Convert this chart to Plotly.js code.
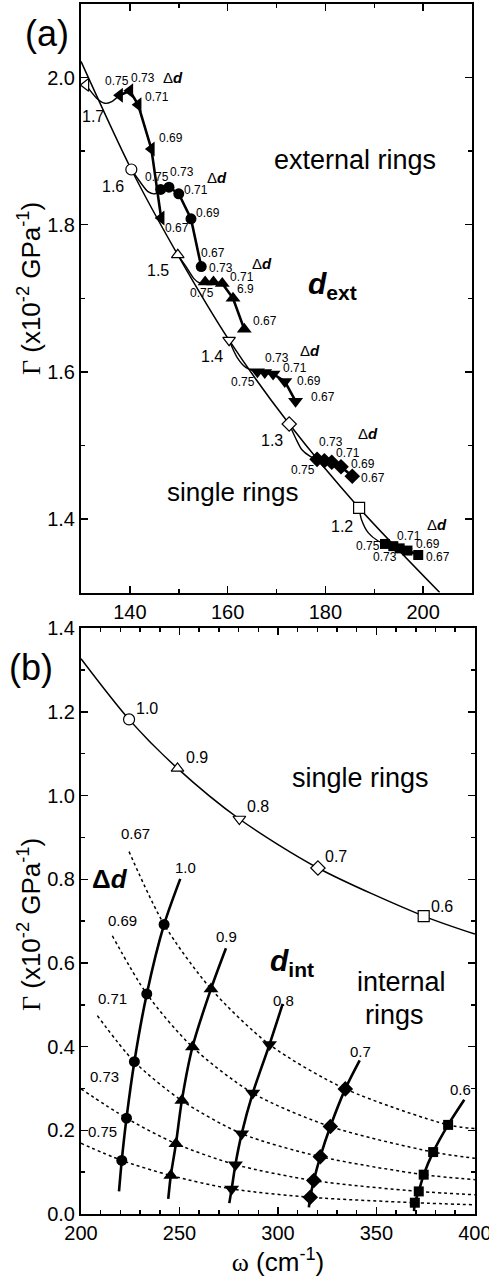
<!DOCTYPE html>
<html><head><meta charset="utf-8">
<script src="https://cdn.plot.ly/plotly-3.0.1.min.js"></script>
<style>html,body{margin:0;padding:0;background:#fff}</style>
</head><body>
<div id="chart" style="width:489px;height:1279px"></div>
<script>
// ================= DATA =================
// Panel (a) single rings (open markers) and curve
const singleA_d = ['1.7', '1.6', '1.5', '1.4', '1.3', '1.2'];
const singleA_w = [131.0, 140.3, 149.8, 160.3, 172.6, 186.9];
const singleA_G = [1.990, 1.875, 1.759, 1.643, 1.529, 1.415];
const singleLineA_w = [130.0, 140.3, 149.8, 160.3, 172.6, 186.9, 203.4];
const singleLineA_G = [2.022, 1.875, 1.759, 1.643, 1.529, 1.415, 1.300];

// Delta d values along each external/internal ring series
const deltaD = ['0.75', '0.73', '0.71', '0.69', '0.67'];

// Panel (a) external rings, one series per d
const ext17_w = [137.9, 140.0, 141.7, 144.4, 146.4];
const ext17_G = [1.976, 1.982, 1.963, 1.903, 1.809];
const ext16_w = [146.3, 148.0, 150.0, 152.5, 154.6];
const ext16_G = [1.848, 1.851, 1.842, 1.808, 1.743];
const ext15_w = [155.4, 157.1, 158.9, 161.1, 163.4];
const ext15_G = [1.722, 1.722, 1.720, 1.700, 1.658];
const ext14_w = [166.1, 167.6, 169.3, 171.7, 173.9];
const ext14_G = [1.600, 1.599, 1.597, 1.587, 1.560];
const ext13_w = [178.3, 179.8, 181.3, 183.2, 185.5];
const ext13_G = [1.481, 1.479, 1.477, 1.471, 1.458];
const ext12_w = [192.2, 193.9, 195.2, 196.8, 199.0];
const ext12_G = [1.366, 1.363, 1.360, 1.357, 1.351];

// thin curves linking single ring to first external ring point
const link17_w = [131.0, 133.2, 134.9, 136.2, 137.9];
const link17_G = [1.990, 1.972, 1.965, 1.967, 1.976];
const link16_w = [140.3, 142.0, 143.7, 145.1, 146.3];
const link16_G = [1.875, 1.859, 1.845, 1.842, 1.848];
const link15_w = [149.8, 151.5, 153.2, 154.2, 155.4];
const link15_G = [1.759, 1.743, 1.726, 1.721, 1.722];
const link14_w = [160.3, 162.0, 163.7, 165.1, 166.1];
const link14_G = [1.643, 1.619, 1.606, 1.602, 1.600];
const link13_w = [172.6, 173.9, 175.2, 176.9, 178.3];
const link13_G = [1.529, 1.510, 1.494, 1.485, 1.481];
const link12_w = [186.9, 187.4, 188.8, 190.8, 192.2];
const link12_G = [1.415, 1.399, 1.381, 1.370, 1.366];

// Panel (b) single rings
const singleB_d = ['1.0', '0.9', '0.8', '0.7', '0.6'];
const singleB_w = [224.4, 249.0, 280.4, 320.3, 374.0];
const singleB_G = [1.182, 1.065, 0.944, 0.827, 0.712];
const singleLineB_w = [200.0, 224.4, 249.0, 280.4, 320.3, 374.0, 400.0];
const singleLineB_G = [1.327, 1.182, 1.065, 0.944, 0.827, 0.712, 0.669];

// Panel (b) internal rings (markers, Delta d = 0.75 ... 0.67) and line ends
const int10_w = [220.7, 223.1, 227.1, 233.4, 242.2];
const int10_G = [0.128, 0.229, 0.364, 0.526, 0.692];
const int10_endW = [219.3, 250.4], int10_endG = [0.054, 0.801];
const int09_w = [245.6, 248.2, 251.2, 256.6, 266.0];
const int09_G = [0.092, 0.168, 0.271, 0.399, 0.538];
const int09_endW = [244.3, 273.6], int09_endG = [0.036, 0.635];
const int08_w = [276.5, 278.4, 281.6, 287.2, 295.7];
const int08_G = [0.060, 0.118, 0.192, 0.289, 0.405];
const int08_endW = [275.3, 302.4], int08_endG = [0.026, 0.502];
const int07_w = [316.4, 318.2, 321.5, 326.6, 334.2];
const int07_G = [0.040, 0.080, 0.137, 0.209, 0.299];
const int07_endW = [315.7, 341.5], int07_endG = [0.016, 0.367];
const int06_w = [369.5, 371.5, 374.0, 378.8, 386.4];
const int06_G = [0.027, 0.054, 0.094, 0.148, 0.213];
const int06_endW = [369.1, 394.6], int06_endG = [0.007, 0.273];

// Dotted iso-Delta-d curve ends (start, end)
const dotStartW = [200.0, 200.0, 208.3, 215.9, 224.4];
const dotStartG = [0.169, 0.299, 0.474, 0.665, 0.866];
const dotEndW = [400, 400, 400, 400, 400];
const dotEndG = [0.022, 0.046, 0.082, 0.133, 0.204];

// ================= BUILD =================
const FONT = 'Arial, "Liberation Sans", sans-serif';
const traces = [];
function line(x, y, w, xa, ya, dash, shape) {
  traces.push({x, y, xaxis: xa, yaxis: ya, mode: 'lines', hoverinfo: 'skip', showlegend: false,
    line: {color: '#000', width: w, dash: dash || 'solid', shape: shape || 'spline', smoothing: 0.8}});
}
function marks(x, y, sym, size, xa, ya) {
  traces.push({x, y, xaxis: xa, yaxis: ya, mode: 'markers', showlegend: false, cliponaxis: false,
    marker: {symbol: sym, size: size, color: '#000', line: {color: '#000', width: 0}}});
}

// Panel a
line(singleLineA_w, singleLineA_G, 1.5, 'x', 'y');
const extA = [
  [link17_w, link17_G, ext17_w, ext17_G, 'triangle-left', 13],
  [link16_w, link16_G, ext16_w, ext16_G, 'circle', 11],
  [link15_w, link15_G, ext15_w, ext15_G, 'triangle-up', 13],
  [link14_w, link14_G, ext14_w, ext14_G, 'triangle-down', 13],
  [link13_w, link13_G, ext13_w, ext13_G, 'diamond', 12],
  [link12_w, link12_G, ext12_w, ext12_G, 'square', 10]
];
extA.forEach(s => {
  line(s[0], s[1], 1.4, 'x', 'y');
  line(s[2], s[3], 2.6, 'x', 'y', 'solid', 'linear');
  marks(s[2], s[3], s[4], s[5], 'x', 'y');
});
const openSymA = ['triangle-left', 'circle', 'triangle-up', 'triangle-down', 'diamond', 'square'];
traces.push({x: singleA_w, y: singleA_G, xaxis: 'x', yaxis: 'y', mode: 'markers', showlegend: false, cliponaxis: false,
  marker: {symbol: openSymA, size: 11, color: '#fff', line: {color: '#000', width: 1.2}}});

// Panel b: dotted curves
const intB = [
  [int10_w, int10_G, int10_endW, int10_endG, 'circle', 11],
  [int09_w, int09_G, int09_endW, int09_endG, 'triangle-up', 13],
  [int08_w, int08_G, int08_endW, int08_endG, 'triangle-down', 13],
  [int07_w, int07_G, int07_endW, int07_endG, 'diamond', 12],
  [int06_w, int06_G, int06_endW, int06_endG, 'square', 10]
];
for (let k = 0; k < deltaD.length; k++) {
  const xs = [dotStartW[k]].concat(intB.map(s => s[0][k]), [dotEndW[k]]);
  const ys = [dotStartG[k]].concat(intB.map(s => s[1][k]), [dotEndG[k]]);
  line(xs, ys, 1.5, 'x2', 'y2', 'dot');
}
line(singleLineB_w, singleLineB_G, 1.5, 'x2', 'y2');
intB.forEach(s => {
  line([s[2][0]].concat(s[0], [s[2][1]]), [s[3][0]].concat(s[1], [s[3][1]]), 2.6, 'x2', 'y2');
  marks(s[0], s[1], s[4], s[5], 'x2', 'y2');
});
const openSymB = ['circle', 'triangle-up', 'triangle-down', 'diamond', 'square'];
traces.push({x: singleB_w, y: singleB_G, xaxis: 'x2', yaxis: 'y2', mode: 'markers', showlegend: false, cliponaxis: false,
  marker: {symbol: openSymB, size: 11, color: '#fff', line: {color: '#000', width: 1.2}}});

// ================= LAYOUT =================
const ML = 81, MR = 14, MT = 4, MB = 65, W = 489, H = 1279;
const PW = W - ML - MR, PH = H - MT - MB;
function P(px, py) { return {x: (px - ML) / PW, y: (MT + PH - py) / PH}; }
const ann = [];
function A(px, py, text, size, angle) {
  const p = P(px, py);
  ann.push({xref: 'paper', yref: 'paper', x: p.x, y: p.y, text: text, showarrow: false, textangle: angle || 0,
    xanchor: 'center', yanchor: 'middle', font: {size: size, family: FONT, color: '#000'}});
}
const DD = 'Δ<b><i>d</i></b>';
const gammaTitle = '<span style="font-family:\'Liberation Serif\',serif">Γ</span> (x10<sup>-2</sup> GPa<sup>-1</sup>)';
// axis titles (y)
A(29, 289, gammaTitle, 26, -90);
A(29, 925, gammaTitle, 26, -90);
// panel a text
A(47, 33, '(a)', 36);
A(355, 160, 'external rings', 27);
A(332, 285, '<b><i>d</i><sub>ext</sub></b>', 30);
A(233, 492, 'single rings', 26);
const dPosA = [[93, 117], [113, 187], [158, 270], [212, 356], [272, 441], [342, 526]];
singleA_d.forEach((t, i) => A(dPosA[i][0], dPosA[i][1], t, 16));
const ddPosA = [
  [[116.7, 81], [142.7, 78.3], [156.7, 96.7], [170.7, 138.3], [176.7, 228.3], [173.3, 77.3]],
  [[156.7, 177.3], [181.7, 172.3], [195.7, 190], [208.3, 213.3], [213.3, 253.3], [217.3, 177.3]],
  [[201.7, 293.3], [220.7, 267.7], [241.7, 277.3], [245, 289.3], [265, 320.7], [262.3, 264]],
  [[243.3, 382.3], [277.3, 358.3], [295, 368.3], [309, 381], [322.7, 397.3], [310, 350.7]],
  [[303.3, 470], [330.7, 441.7], [348, 452.5], [363.3, 463.7], [373.3, 478.3], [368.3, 433.3]],
  [[368.3, 546], [385, 557.3], [409.3, 536], [428.3, 544], [438.3, 556.7], [437.3, 524]]
];
ddPosA.forEach((pos, s) => {
  deltaD.forEach((t, i) => A(pos[i][0], pos[i][1], (s === 2 && i === 3) ? '6.9' : t, 12));
  A(pos[5][0], pos[5][1], DD, 15);
});
// panel b text
A(31, 667, '(b)', 36);
A(360, 778, 'single rings', 27);
A(292, 962, '<b><i>d</i><sub>int</sub></b>', 30);
A(401.7, 981.7, 'internal', 27);
A(394, 1015, 'rings', 27);
const dPosB = [[146.7, 708.3], [196.7, 757.3], [258.3, 806.7], [336, 856.7], [441.7, 906]];
singleB_d.forEach((t, i) => A(dPosB[i][0], dPosB[i][1], t, 16));
const serPosB = [[185, 867.7], [226.7, 936.7], [283.3, 1000.7], [360.3, 1051], [460, 1089]];
singleB_d.forEach((t, i) => A(serPosB[i][0], serPosB[i][1], t, 15));
const dotLabPos = [[102.7, 1131.7], [104, 1076.7], [112.7, 998.3], [122.7, 920], [135.3, 833.3]];
deltaD.forEach((t, i) => A(dotLabPos[i][0], dotLabPos[i][1], t, 15));
A(110, 879, '<b>Δ<i>d</i></b>', 26);

const minorT = {ticklen: 4, ticks: 'inside', tickwidth: 1.5, tickcolor: '#000'};
const axBase = {showline: true, linewidth: 2, linecolor: '#000', mirror: 'allticks', ticks: 'inside',
  ticklen: 7, tickwidth: 1.5, tickcolor: '#000', showgrid: false, zeroline: false, ticklabeloverflow: 'allow',
  tickfont: {size: 20, family: FONT, color: '#000'}};
const layout = {
  width: W, height: H, margin: {l: ML, r: MR, t: MT, b: MB}, paper_bgcolor: '#fff', plot_bgcolor: '#fff',
  showlegend: false, font: {family: FONT, color: '#000'},
  xaxis: Object.assign({}, axBase, {domain: [0, (472 - ML) / PW], anchor: 'y', range: [130, 210], dtick: 20, tick0: 0,
    minor: Object.assign({dtick: 10}, minorT)}),
  yaxis: Object.assign({}, axBase, {domain: [(MT + PH - 592.5) / PH, 1], anchor: 'x', range: [1.3, 2.1], dtick: 0.2, tick0: 0,
    tickformat: '.1f', minor: Object.assign({dtick: 0.1}, minorT)}),
  xaxis2: Object.assign({}, axBase, {domain: [0, 1], anchor: 'y2', range: [200, 400.05], dtick: 50, tick0: 0,
    minor: Object.assign({dtick: 10}, minorT),
    title: {text: '<span style="font-family:\'Liberation Serif\',serif">ω</span> (cm<sup>-1</sup>)', font: {size: 26, family: FONT}, standoff: 4}}),
  yaxis2: Object.assign({}, axBase, {domain: [0, (MT + PH - 628) / PH], anchor: 'x2', range: [0, 1.4005], dtick: 0.2, tick0: 0,
    tickformat: '.1f', minor: Object.assign({dtick: 0.1}, minorT)}),
  annotations: ann
};
Plotly.newPlot('chart', traces, layout, {staticPlot: true, displayModeBar: false});
</script>
</body></html>
